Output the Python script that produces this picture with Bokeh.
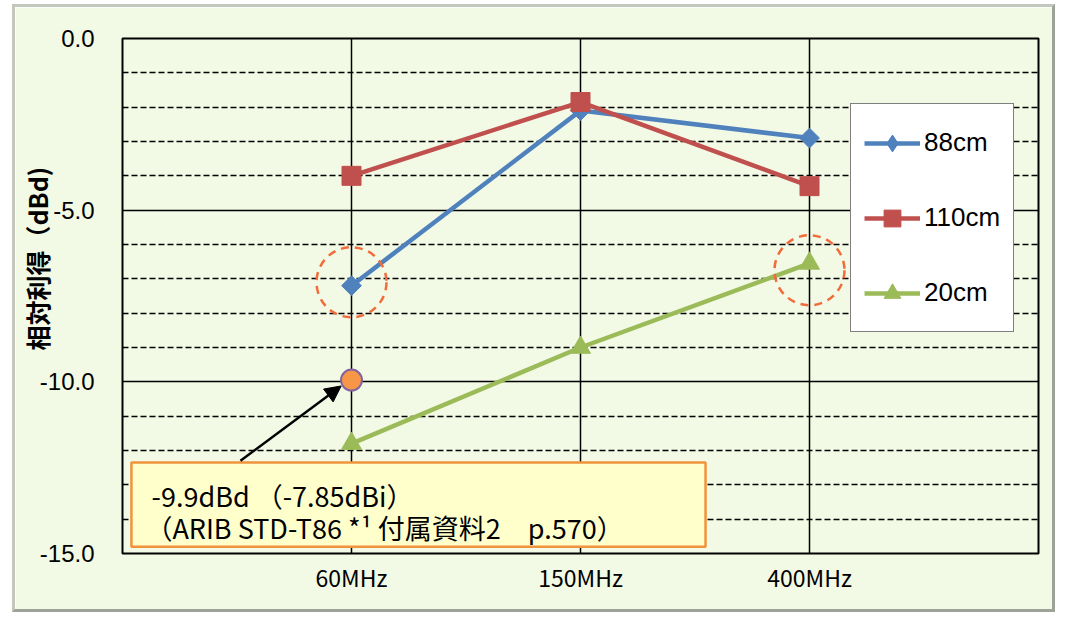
import math
from bokeh.plotting import figure
from bokeh.models import (Range1d, FixedTicker, Grid, Title, Arrow, NormalHead,
                          Legend, LegendItem, PrintfTickFormatter)
from bokeh.core.properties import value
from bokeh.embed import file_html
from bokeh.resources import INLINE

# ---- data ----
frequencies = ["60MHz", "150MHz", "400MHz"]
gain_88cm = [-7.2, -2.1, -2.9]
gain_110cm = [-4.0, -1.85, -4.3]
gain_20cm = [-11.8, -9.0, -6.55]
arib_freq = ["60MHz"]
arib_gain = [-9.95]
highlight_freq = ["60MHz", "400MHz"]
highlight_gain = [-7.1, -6.75]
y_major_ticks = [0.0, -5.0, -10.0, -15.0]
y_solid_grid = [-5.0, -10.0]
y_dashed_grid = [-1, -2, -3, -4, -6, -7, -8, -9, -11, -12, -13, -14]
note_line1 = "-9.9dBd （-7.85dBi）"
note_line2 = "（ARIB STD-T86 *¹ 付属資料2　p.570）"
y_title = "相対利得（dBd)"

pos = {f: i + 1 for i, f in enumerate(frequencies)}
x_main = [pos[f] for f in frequencies]

BG = "#f2f9e5"
BLUE, RED, GREEN = "#4f81bd", "#c0504d", "#9bbb59"

p = figure(width=1043, height=608, x_range=Range1d(0, 4), y_range=Range1d(-15, 0),
           output_backend="svg", toolbar_location=None,
           min_border_left=107, min_border_right=20, min_border_top=31, min_border_bottom=62)
p.styles = {"margin-left": "12px", "margin-top": "4px",
            "border-left": "3px solid #c4c8bc", "border-top": "3px solid #c4c8bc",
            "border-right": "3px solid #9ea298", "border-bottom": "3px solid #9ea298"}
p.background_fill_color = BG
p.border_fill_color = BG
p.outline_line_color = "black"
p.outline_line_width = 2

# axes
p.yaxis.ticker = FixedTicker(ticks=y_major_ticks)
p.yaxis.formatter = PrintfTickFormatter(format="%.1f")
p.yaxis.axis_line_color = None
p.yaxis.major_tick_line_color = None
p.yaxis.minor_tick_line_color = None
p.yaxis.major_label_standoff = 22
p.yaxis.major_label_text_font = "Liberation Sans"
p.yaxis.major_label_text_font_size = "24px"
p.yaxis.major_label_text_color = "black"

p.xaxis.ticker = FixedTicker(ticks=x_main)
p.xaxis.major_label_overrides = {pos[f]: f for f in frequencies}
p.xaxis.axis_line_color = None
p.xaxis.major_tick_line_color = None
p.xaxis.minor_tick_line_color = None
p.xaxis.major_label_standoff = 0
p.xaxis.major_label_text_font = "Noto Sans CJK JP"
p.xaxis.major_label_text_font_size = "23px"
p.xaxis.major_label_text_color = "black"

# grids
p.xgrid.ticker = FixedTicker(ticks=x_main)
p.xgrid.grid_line_color = "black"
p.xgrid.grid_line_width = 1.5
p.ygrid.ticker = FixedTicker(ticks=y_solid_grid)
p.ygrid.grid_line_color = "black"
p.ygrid.grid_line_width = 1.5
dgrid = Grid(dimension=1, ticker=FixedTicker(ticks=y_dashed_grid), grid_line_color="black",
             grid_line_dash="6 3", grid_line_width=1.5)
p.add_layout(dgrid)

# series
l1 = p.line(x_main, gain_88cm, line_color=BLUE, line_width=4.5)
# small diamond (hidden under the main marker) that supplies the legend key
m1_key = p.scatter(x_main, gain_88cm, marker="diamond", size=9,
                   fill_color=BLUE, line_color=BLUE)
m1 = p.scatter(x_main, gain_88cm, marker="square", angle=math.pi / 4, size=14,
               fill_color=BLUE, line_color=BLUE)
l2 = p.line(x_main, gain_110cm, line_color=RED, line_width=4.5)
m2 = p.scatter(x_main, gain_110cm, marker="square", size=19, fill_color=RED, line_color=RED)
l3 = p.line(x_main, gain_20cm, line_color=GREEN, line_width=4.5)
m3 = p.scatter(x_main, gain_20cm, marker="triangle", size=20, fill_color=GREEN, line_color=GREEN)

# reference point
p.scatter([pos[f] for f in arib_freq], arib_gain, marker="circle", size=21,
          fill_color="#f79646", line_color="#8064a2", line_width=2)

# highlight circles
p.scatter([pos[f] for f in highlight_freq], highlight_gain, marker="circle", size=70,
          fill_color=None, line_color="#f26b3a", line_width=2.5, line_dash="8 6")

# arrow
p.add_layout(Arrow(end=NormalHead(size=16, fill_color="black", line_color="black"),
                   x_start=0.515, y_start=-12.3, x_end=0.955, y_end=-10.12,
                   line_color="black", line_width=2.5))

# note box
p.quad(left=[0.039], right=[2.546], top=[-12.35], bottom=[-14.80],
       fill_color="#ffffcc", line_color="#f0943c", line_width=2.5)
p.text(x=[0.127, 0.10], y=[-13.31, -14.23], text=[note_line1, note_line2],
       text_font=value("Noto Sans CJK JP"), text_font_size="27px",
       text_baseline="middle", text_align="left", text_color="black")

# y title
yt = Title(text=y_title, align="left", offset=203, standoff=-36,
           text_font="Noto Sans CJK JP", text_font_size="25px",
           text_font_style="bold", text_color="black")
p.add_layout(yt, "left")

legend = Legend(items=[LegendItem(label="88cm", renderers=[l1, m1_key]),
                       LegendItem(label="110cm", renderers=[l2, m2]),
                       LegendItem(label="20cm", renderers=[l3, m3])],
                location=(728, 221))
legend.background_fill_color = "white"
legend.background_fill_alpha = 1.0
legend.border_line_color = "black"
legend.border_line_width = 1.5
legend.padding = 13
legend.spacing = 24
legend.margin = 0
legend.label_height = 51
legend.glyph_height = 42
legend.glyph_width = 56
legend.label_standoff = 4
legend.label_text_font = "Liberation Sans"
legend.label_text_font_size = "26px"
legend.label_text_color = "black"
p.add_layout(legend)

open("out.html", "w").write(file_html(p, INLINE))
